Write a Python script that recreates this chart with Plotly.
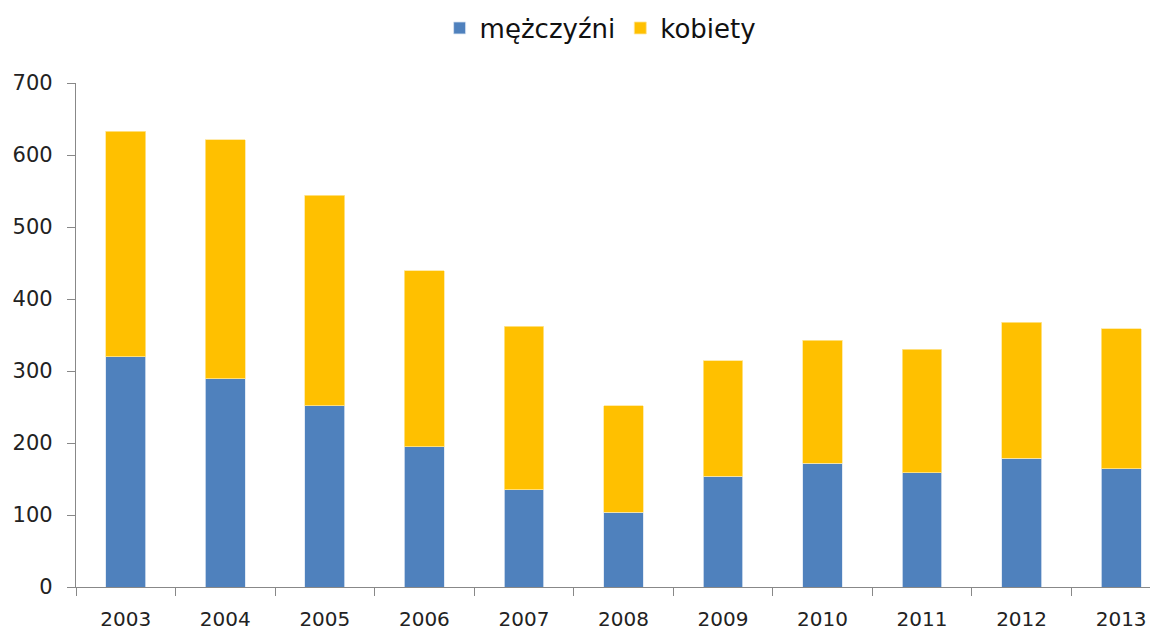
import plotly.graph_objects as go

years = ["2003", "2004", "2005", "2006", "2007", "2008", "2009", "2010", "2011", "2012", "2013"]
men = [320, 289, 252, 195, 135, 104, 154, 172, 159, 179, 164]
women = [313, 332, 292, 244, 227, 148, 160, 171, 171, 189, 195]
y_ticks = [0, 100, 200, 300, 400, 500, 600, 700]

fig = go.Figure()
fig.add_trace(go.Bar(x=years, y=men, name="mężczyźni",
                     marker=dict(color="#4F81BD", line=dict(color="#DCE6F2", width=0.8))))
fig.add_trace(go.Bar(x=years, y=women, name="kobiety",
                     marker=dict(color="#FFC000", line=dict(color="#FFE699", width=0.8))))

fig.update_layout(
    barmode="stack",
    bargap=0.6,
    width=1150, height=630,
    margin=dict(l=76, r=0, t=83, b=43, autoexpand=False),
    plot_bgcolor="white", paper_bgcolor="white",
    font=dict(family="DejaVu Sans", size=20, color="#222222"),
    legend=dict(orientation="h", x=0.488, xanchor="center", y=1.109, yanchor="middle",
                font=dict(size=26, family="DejaVu Sans", color="#111111"),
                itemwidth=30, traceorder="normal"),
    showlegend=True,
)
fig.update_xaxes(
    type="category", range=[-0.5, 10.29], automargin=False,
    showline=True, linecolor="#888888", linewidth=1.3,
    ticks="outside", tickson="boundaries", ticklen=8, tickcolor="#888888",
    showgrid=False, tickfont=dict(size=20), ticklabelstandoff=14,
)
fig.update_yaxes(
    range=[0, 700], tickvals=y_ticks, automargin=False,
    showline=True, linecolor="#888888", linewidth=1.3,
    ticks="outside", ticklen=8, tickcolor="#888888",
    showgrid=False, zeroline=False, tickfont=dict(size=21), ticklabelstandoff=10,
)

fig.write_html("out.html", config={"displayModeBar": False},
               post_script="document.body.style.margin='0';document.body.style.overflow='hidden';")
